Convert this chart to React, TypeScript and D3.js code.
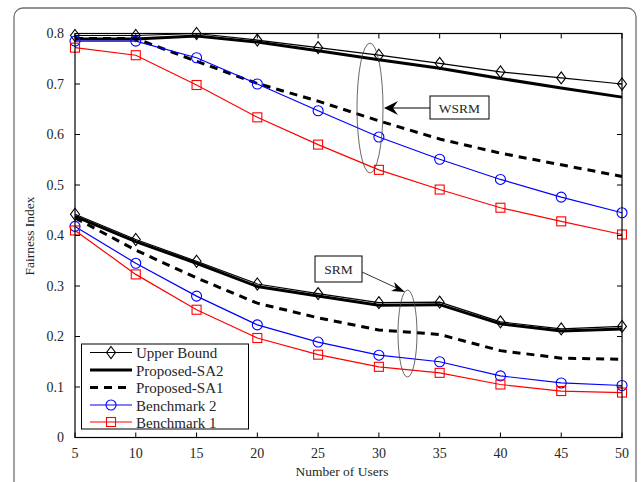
import React from "react";
import * as d3 from "d3";

const users = [5, 10, 15, 20, 25, 30, 35, 40, 45, 50];
const xTicks = [5, 10, 15, 20, 25, 30, 35, 40, 45, 50];
const yTicks = [0, 0.1, 0.2, 0.3, 0.4, 0.5, 0.6, 0.7, 0.8];

// WSRM
const upperWSRM = [0.796, 0.796, 0.8, 0.787, 0.772, 0.757, 0.741, 0.724, 0.712, 0.7];
const sa2WSRM = [0.789, 0.789, 0.795, 0.783, 0.766, 0.748, 0.731, 0.711, 0.692, 0.674];
const sa1WSRM = [0.79, 0.79, 0.745, 0.701, 0.666, 0.627, 0.591, 0.563, 0.54, 0.517];
const bench2WSRM = [0.785, 0.785, 0.752, 0.7, 0.647, 0.595, 0.551, 0.511, 0.476, 0.445];
const bench1WSRM = [0.772, 0.757, 0.698, 0.634, 0.58, 0.53, 0.491, 0.455, 0.428, 0.402];

// SRM
const upperSRM = [0.442, 0.392, 0.349, 0.304, 0.285, 0.267, 0.268, 0.229, 0.215, 0.22];
const sa2SRM = [0.438, 0.388, 0.345, 0.299, 0.28, 0.262, 0.263, 0.225, 0.211, 0.215];
const sa1SRM = [0.435, 0.371, 0.316, 0.266, 0.237, 0.213, 0.204, 0.172, 0.157, 0.155];
const bench2SRM = [0.418, 0.345, 0.28, 0.223, 0.189, 0.163, 0.15, 0.122, 0.108, 0.103];
const bench1SRM = [0.41, 0.323, 0.253, 0.197, 0.164, 0.14, 0.128, 0.105, 0.092, 0.089];

const legendLabels = ["Upper Bound", "Proposed-SA2", "Proposed-SA1", "Benchmark 2", "Benchmark 1"];

const FONT = "'Liberation Serif', 'Times New Roman', serif";
const TXT = "#262626";

const x = d3.scaleLinear().domain([5, 50]).range([75, 622]);
const y = d3.scaleLinear().domain([0, 0.8]).range([437.5, 33.5]);

const line = d3
  .line<number>()
  .x((_, i) => x(users[i]))
  .y((d) => y(d));

function Diamond({ cx, cy }: { cx: number; cy: number }) {
  return (
    <path
      d={`M${cx},${cy - 6}L${cx + 4.5},${cy}L${cx},${cy + 6}L${cx - 4.5},${cy}Z`}
      fill="none"
      stroke="#000"
      strokeWidth={1.1}
    />
  );
}
function Circle({ cx, cy }: { cx: number; cy: number }) {
  return <circle cx={cx} cy={cy} r={5} fill="none" stroke="#0000ff" strokeWidth={1.1} />;
}
function Square({ cx, cy }: { cx: number; cy: number }) {
  return (
    <rect x={cx - 4.5} y={cy - 4.5} width={9} height={9} fill="none" stroke="#ff0000" strokeWidth={1.1} />
  );
}

export default function App() {
  const [x0, x1] = x.range();
  const [yb, yt] = y.range();

  const series = (
    vals: number[],
    stroke: string,
    width: number,
    dash: string | undefined,
    marker: "d" | "c" | "s" | null,
    key: string
  ) => (
    <g key={key}>
      <path d={line(vals) || ""} fill="none" stroke={stroke} strokeWidth={width} strokeDasharray={dash} />
      {marker &&
        vals.map((v, i) =>
          marker === "d" ? (
            <Diamond key={i} cx={x(users[i])} cy={y(v)} />
          ) : marker === "c" ? (
            <Circle key={i} cx={x(users[i])} cy={y(v)} />
          ) : (
            <Square key={i} cx={x(users[i])} cy={y(v)} />
          )
        )}
    </g>
  );

  const legY = [352.5, 370, 387.5, 405, 422];
  const legStyles: { stroke: string; w: number; dash?: string; m: "d" | "c" | "s" | null }[] = [
    { stroke: "#000", w: 1.2, m: "d" },
    { stroke: "#000", w: 3, m: null },
    { stroke: "#000", w: 3, dash: "8,6", m: null },
    { stroke: "#0000ff", w: 1.2, m: "c" },
    { stroke: "#ff0000", w: 1.2, m: "s" },
  ];

  return (
    <svg
      width={641}
      height={482}
      style={{ position: "absolute", left: 0, top: 0, background: "#fff" }}
      fontFamily={FONT}
    >
      {/* outer frame */}
      <rect x={14} y={8} width={622} height={500} rx={9} ry={9} fill="none" stroke="#707070" strokeWidth={1.3} />

      {/* series */}
      {series(upperWSRM, "#000", 1.2, undefined, "d", "uw")}
      {series(sa2WSRM, "#000", 3, undefined, null, "s2w")}
      {series(sa1WSRM, "#000", 3, "8,6", null, "s1w")}
      {series(bench2WSRM, "#0000ff", 1.2, undefined, "c", "b2w")}
      {series(bench1WSRM, "#ff0000", 1.2, undefined, "s", "b1w")}
      {series(upperSRM, "#000", 1.2, undefined, "d", "us")}
      {series(sa2SRM, "#000", 3, undefined, null, "s2s")}
      {series(sa1SRM, "#000", 3, "8,6", null, "s1s")}
      {series(bench2SRM, "#0000ff", 1.2, undefined, "c", "b2s")}
      {series(bench1SRM, "#ff0000", 1.2, undefined, "s", "b1s")}

      {/* axes box */}
      <rect x={x0} y={yt} width={x1 - x0} height={yb - yt} fill="none" stroke="#000" strokeWidth={1.2} />

      {/* ticks */}
      {xTicks.map((t) => (
        <g key={"xt" + t}>
          <line x1={x(t)} x2={x(t)} y1={yb} y2={yb - 5} stroke="#000" strokeWidth={1} />
          <line x1={x(t)} x2={x(t)} y1={yt} y2={yt + 5} stroke="#000" strokeWidth={1} />
          <text x={x(t)} y={yb + 20} textAnchor="middle" fontSize={14} fill={TXT}>
            {t}
          </text>
        </g>
      ))}
      {yTicks.map((t) => (
        <g key={"yt" + t}>
          <line x1={x0} x2={x0 + 5} y1={y(t)} y2={y(t)} stroke="#000" strokeWidth={1} />
          <line x1={x1} x2={x1 - 5} y1={y(t)} y2={y(t)} stroke="#000" strokeWidth={1} />
          <text x={64} y={y(t) + 4.5} textAnchor="end" fontSize={14} fill={TXT}>
            {t === 0 ? "0" : t.toFixed(1)}
          </text>
        </g>
      ))}

      {/* axis titles */}
      <text x={342} y={476} textAnchor="middle" fontSize={13.5} fill={TXT}>
        Number of Users
      </text>
      <text
        transform={`translate(34,${236}) rotate(-90)`}
        textAnchor="middle"
        fontSize={13.5}
        fill={TXT}
      >
        Fairness Index
      </text>

      {/* WSRM annotation */}
      <ellipse cx={370} cy={108} rx={13} ry={65} fill="none" stroke="#444" strokeWidth={0.8} />
      <line x1={430} y1={108} x2={386} y2={108} stroke="#000" strokeWidth={1} />
      <path d="M384,108L398,101L393,108L398,115Z" fill="#000" />
      <rect x={430} y={96} width={59} height={23} fill="#fff" stroke="#000" strokeWidth={1} />
      <text x={459.5} y={112.5} textAnchor="middle" fontSize={13.5} fill={TXT}>
        WSRM
      </text>

      {/* SRM annotation */}
      <ellipse cx={407.5} cy={333.5} rx={9.5} ry={43.5} fill="none" stroke="#444" strokeWidth={0.8} />
      <line x1={362} y1={272} x2={401} y2={290} stroke="#000" strokeWidth={0.8} />
      <path d="M405,292L391,291L396,288.5L394,282Z" fill="#000" />
      <rect x={315} y={256} width={47} height={26} fill="#fff" stroke="#000" strokeWidth={1} />
      <text x={338.5} y={273.5} textAnchor="middle" fontSize={13.5} fill={TXT}>
        SRM
      </text>

      {/* legend */}
      <rect x={81.5} y={344} width={167} height={85} fill="#fff" stroke="#000" strokeWidth={1} />
      {legendLabels.map((lab, i) => {
        const s = legStyles[i];
        const cy = legY[i];
        return (
          <g key={lab}>
            <line x1={90} x2={132} y1={cy} y2={cy} stroke={s.stroke} strokeWidth={s.w} strokeDasharray={s.dash} />
            {s.m === "d" && <Diamond cx={111} cy={cy} />}
            {s.m === "c" && <Circle cx={111} cy={cy} />}
            {s.m === "s" && <Square cx={111} cy={cy} />}
            <text x={136} y={cy + 5.5} fontSize={15} fill={TXT}>
              {lab}
            </text>
          </g>
        );
      })}
    </svg>
  );
}
